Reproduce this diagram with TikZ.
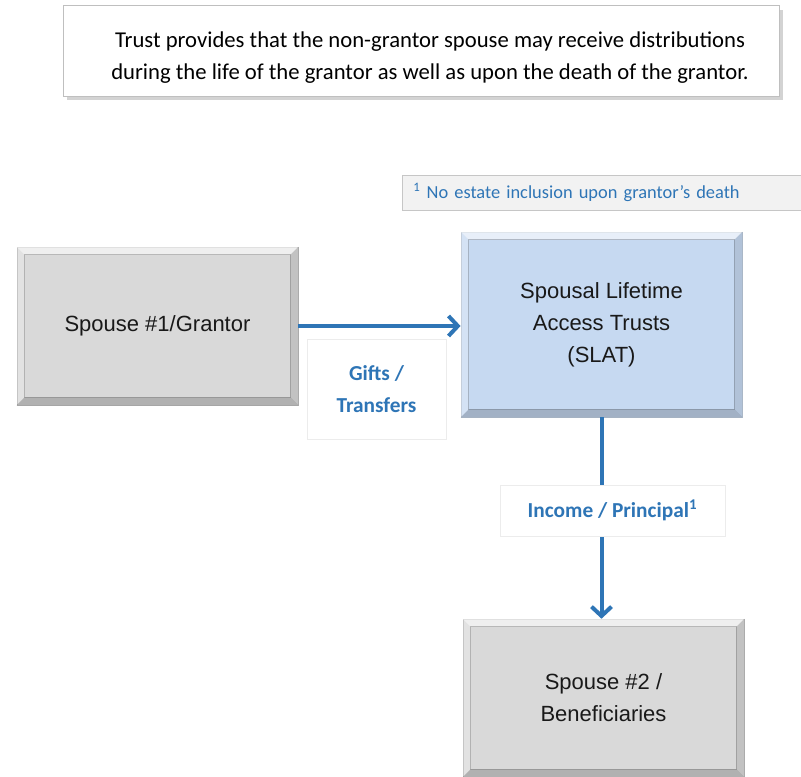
\documentclass[tikz,border=0pt]{standalone}
\usepackage{fontspec}
\setmainfont{Carlito}
\newfontfamily\boxfont{Liberation Sans}
\usetikzlibrary{positioning, arrows.meta, calc, shadows}

\definecolor{slatblue}{HTML}{C6D9F1}
\definecolor{boxgray}{HTML}{D9D9D9}
\definecolor{flowblue}{HTML}{2E75B6}
\definecolor{notegray}{HTML}{F2F2F2}

% bevelled edge drawn over a named box
\newcommand{\bevel}[1]{%
  \fill[white, opacity=.6] (#1.north west) -- (#1.north east)
    -- ([shift={(-6pt,-6pt)}]#1.north east) -- ([shift={(6pt,-6pt)}]#1.north west) -- cycle;
  \fill[white, opacity=.25] (#1.north west) -- (#1.south west)
    -- ([shift={(6pt,6pt)}]#1.south west) -- ([shift={(6pt,-6pt)}]#1.north west) -- cycle;
  \fill[black, opacity=.10] (#1.north east) -- (#1.south east)
    -- ([shift={(-6pt,6pt)}]#1.south east) -- ([shift={(-6pt,-6pt)}]#1.north east) -- cycle;
  \fill[black, opacity=.18] (#1.south west) -- (#1.south east)
    -- ([shift={(-6pt,6pt)}]#1.south east) -- ([shift={(6pt,6pt)}]#1.south west) -- cycle;
  \draw[black, opacity=.2] ([shift={(6pt,6pt)}]#1.south west) rectangle ([shift={(-6pt,-6pt)}]#1.north east);
}

\begin{document}
\begin{tikzpicture}[
  x=0.75pt, y=-0.75pt,
  party/.style={draw=gray!60, fill=boxgray, minimum width=211pt, minimum height=118.5pt,
                align=center, font=\boxfont\fontsize{16.5}{24}\selectfont, text=black!90},
  trust/.style={party, fill=slatblue, draw=slatblue!70!gray, minimum height=139pt},
  flow/.style={-{Straight Barb[length=7pt, width=15pt]}, line width=3pt, flowblue},
  tag/.style={draw=gray!15, fill=white, align=center, text=flowblue,
              font=\bfseries\fontsize{16}{24}\selectfont},
]
  \useasboundingbox (0,0) rectangle (801,777);

  % --- note at the top ---
  \node[draw=gray!50, fill=white, drop shadow={shadow xshift=3pt, shadow yshift=-3pt, opacity=.35},
        minimum width=537pt, minimum height=68pt] (notebox) at (421,51) {};
  \node[align=center, font=\fontsize{17}{24}\selectfont] (note) at (430,58)
    {Trust provides that the non-grantor spouse may receive distributions\\
     during the life of the grantor as well as upon the death of the grantor.};

  % --- footnote strip ---
  \node[draw=gray!45, fill=notegray, minimum width=299pt, minimum height=26pt, inner xsep=8pt,
        text width=283pt, align=left, text=flowblue, font=\fontsize{13.8}{16}\selectfont]
    (foot) at (602,192.5) {\textsuperscript{1} No estate inclusion upon grantor’s death};

  % --- parties and trust ---
  \node[party] (s1) at (157.5,326) {Spouse \#1/Grantor};
  \node[trust] (slat) at (601.5,324.5) {Spousal Lifetime\\Access Trusts\\(SLAT)};
  \node[party] (s2) at (603.5,698) {Spouse \#2 /\\Beneficiaries};
  \bevel{s1}
  \bevel{slat}
  \bevel{s2}

  % --- transfers ---
  \draw[flow] (s1.east) -- (s1.east -| slat.west);
  \node[tag, minimum width=104pt, minimum height=75pt] (gifts) at (376.5,389) {Gifts /\\Transfers};

  \draw[flow] (slat.south) -- (slat.south |- s2.north);
  \node[tag, minimum width=169pt, minimum height=38pt] (inc) at (612.5,510.5)
    {Income / Principal\textsuperscript{1}};
\end{tikzpicture}
\end{document}
